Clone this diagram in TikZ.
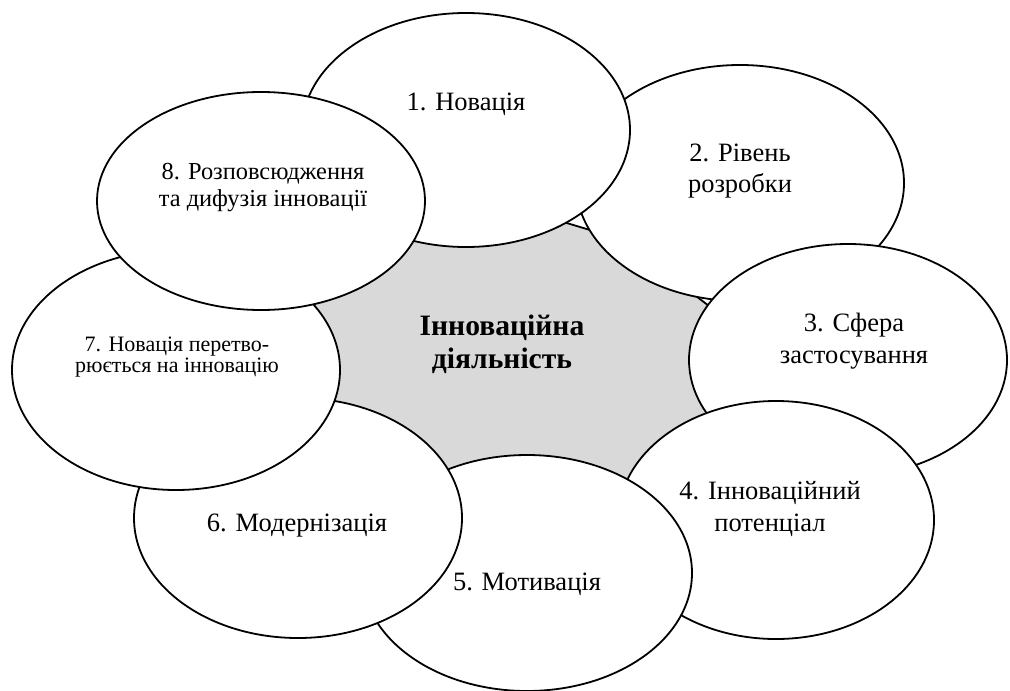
\documentclass[tikz,border=0pt]{standalone}
\usepackage{fontspec}
\setmainfont{Liberation Serif}
\usetikzlibrary{shapes.geometric}
\definecolor{coregray}{HTML}{D9D9D9}

\begin{document}
\begin{tikzpicture}[x=0.5pt,y=-0.5pt,
    bubble/.style={ellipse,draw,fill=white,line width=0.9pt,inner sep=0pt,outer sep=0pt},
    caption/.style={align=center,inner sep=0pt,font=\fontsize{13.25}{15.75}\selectfont}]
  \useasboundingbox (0,0) rectangle (1010,690);

  % grey core behind the bubbles
  \filldraw[fill=coregray,line width=0.9pt]
    (370,170) -- (540,215) -- (620,239) -- (688,290) -- (730,322) -- (800,440)
    -- (650,550) -- (410,545) -- (240,445) -- (220,285) -- cycle;
  \node[align=center,inner sep=0pt,font=\fontsize{14.8}{16.5}\selectfont\bfseries]
    (core) at (502,344) {Інноваційна\\діяльність};

  % bubbles, back to front
  \node[bubble,minimum width=164pt,minimum height=118pt] (e2) at (740,183) {};
  \node[bubble,minimum width=164pt,minimum height=117pt] (e1) at (466,130) {};
  \node[bubble,minimum width=159pt,minimum height=116pt] (e3) at (848,360) {};
  \node[bubble,minimum width=158pt,minimum height=119pt] (e4) at (776,520) {};
  \node[bubble,minimum width=165pt,minimum height=118pt] (e5) at (527,573) {};
  \node[bubble,minimum width=164pt,minimum height=120pt] (e6) at (298,518) {};
  \node[bubble,minimum width=164pt,minimum height=120pt] (e7) at (176,370) {};
  \node[bubble,minimum width=164pt,minimum height=109pt] (e8) at (261,201) {};

  % captions
  \node[caption] (t1) at (466,104) {1. Новація};
  \node[caption] (t2) at (740,171) {2. Рівень\\розробки};
  \node[caption] (t3) at (854,341) {3. Сфера\\застосування};
  \node[caption] (t4) at (770,509) {4. Інноваційний\\потенціал};
  \node[caption] (t5) at (527,584) {5. Мотивація};
  \node[caption] (t6) at (297,526) {6. Модернізація};
  \node[caption,font=\fontsize{11}{10.5}\selectfont] (t7) at (177,357) {7. Новація перетво-\\рюється на інновацію};
  \node[caption,font=\fontsize{12.2}{13.5}\selectfont] (t8) at (263,188) {8. Розповсюдження\\та дифузія інновації};
\end{tikzpicture}
\end{document}
